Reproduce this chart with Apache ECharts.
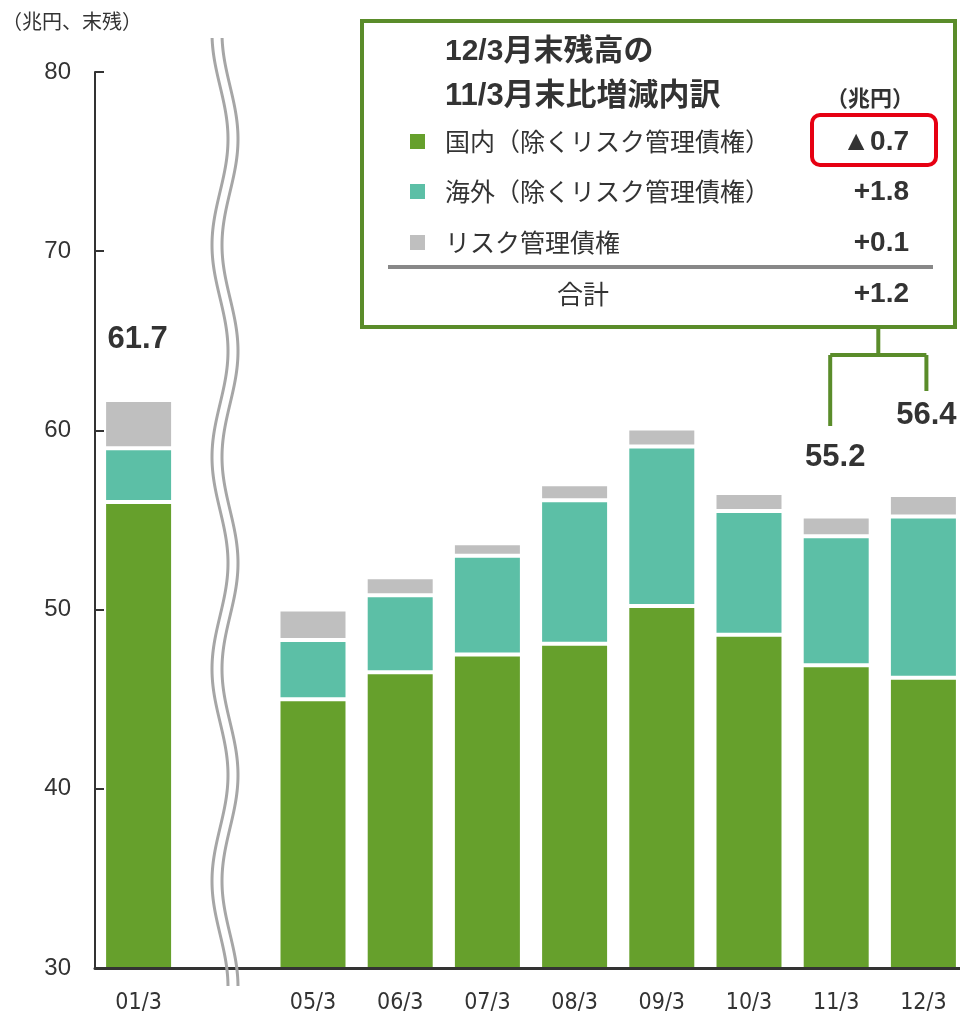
<!DOCTYPE html>
<html><head><meta charset="utf-8">
<script src="https://cdn.jsdelivr.net/npm/echarts@6/dist/echarts.min.js"></script>
<style>html,body{margin:0;padding:0;background:#fff}#c{width:960px;height:1021px}</style>
</head><body><div id="c"></div>
<script>
const categories = ['01/3', '', '05/3', '06/3', '07/3', '08/3', '09/3', '10/3', '11/3', '12/3'];
const domestic = [56.0, null, 45.0, 46.5, 47.5, 48.1, 50.2, 48.6, 46.9, 46.2];
const overseas = [3.0, null, 3.3, 4.3, 5.5, 8.0, 8.9, 6.9, 7.2, 9.0];
const riskMgmt = [2.7, null, 1.7, 1.0, 0.7, 0.9, 1.0, 1.0, 1.1, 1.2];
const labeledIdx = [0, 8, 9];
const labelDistances = [45, 43, 64];
const yAxisName = '（兆円、末残）';
const titleLines = ['12/3月末残高の', '11/3月末比増減内訳'];
const unitText = '（兆円）';
const legendNames = ['国内（除くリスク管理債権）', '海外（除くリスク管理債権）', 'リスク管理債権'];
const legendValues = ['▲0.7', '+1.8', '+0.1'];
const totalText = '合計';
const totalValue = '+1.2';

const colors = ['#66a02c', '#5cbfa6', '#bfbfbf'];
const frameGreen = '#5a8c2a';
const txt = '#333333';
const latin = "'Liberation Sans','Noto Sans CJK JP',sans-serif";
const cjk = "'Noto Sans CJK JP','Liberation Sans',sans-serif";
const narrow = "'DejaVu Sans Condensed','Liberation Sans Narrow','Liberation Sans',sans-serif";

const chart = echarts.init(document.getElementById('c'), null, {renderer: 'canvas'});

const grayData = riskMgmt.map((v, i) => {
  const k = labeledIdx.indexOf(i);
  if (k < 0 || v == null) return v;
  const total = (domestic[i] + overseas[i] + v).toFixed(1);
  return {
    value: v,
    label: {show: true, position: 'top', distance: labelDistances[k], formatter: total,
      fontSize: 31, fontWeight: 'bold', color: txt, fontFamily: latin, offset: k === 2 ? [3, 0] : [-1, 0]}
  };
});

// axis break wave (decoration)
function wave(dx) {
  const pts = [];
  for (let y = 38; y <= 986; y += 3) {
    pts.push([220 + dx - 8 * Math.cos(2 * Math.PI * (y - 33) / 212), y]);
  }
  return pts;
}

const graphics = [];
graphics.push({type: 'polyline', shape: {points: wave(0)}, style: {stroke: '#a6a6a6', lineWidth: 3, fill: null}, z: 100});
graphics.push({type: 'polyline', shape: {points: wave(10)}, style: {stroke: '#a6a6a6', lineWidth: 3, fill: null}, z: 100});
graphics.push({type: 'text', style: {text: yAxisName, x: 2, y: 21, fontSize: 20, fontFamily: cjk, fill: txt, textVerticalAlign: 'middle'}, z: 100});
graphics.push({type: 'rect', shape: {x: 362, y: 21, width: 593, height: 306}, style: {fill: '#fff', stroke: frameGreen, lineWidth: 4}, z: 100});
graphics.push({type: 'text', style: {text: titleLines[0], x: 445, y: 52, fontSize: 30, fontWeight: 'bold', fontFamily: latin, fill: txt, textVerticalAlign: 'middle'}, z: 101});
graphics.push({type: 'text', style: {text: titleLines[1], x: 445, y: 96, fontSize: 31, fontWeight: 'bold', fontFamily: latin, fill: txt, textVerticalAlign: 'middle'}, z: 101});
graphics.push({type: 'text', style: {text: unitText, x: 870, y: 98, fontSize: 22, fontWeight: 'bold', fontFamily: cjk, fill: txt, textAlign: 'center', textVerticalAlign: 'middle'}, z: 101});
const rowY = [141, 191, 242];
rowY.forEach((y, i) => {
  graphics.push({type: 'rect', shape: {x: 410, y: y - 7, width: 15, height: 15}, style: {fill: colors[i]}, z: 101});
  graphics.push({type: 'text', style: {text: legendNames[i], x: 445, y: y, fontSize: 25, fontFamily: cjk, fill: txt, textVerticalAlign: 'middle'}, z: 101});
  graphics.push({type: 'text', style: {text: legendValues[i], x: 909, y: y + 1, fontSize: 28, fontWeight: 'bold', fontFamily: latin, fill: txt, textAlign: 'right', textVerticalAlign: 'middle'}, z: 101});
});
graphics.push({type: 'rect', shape: {x: 812, y: 115, width: 124, height: 50, r: 8}, style: {fill: null, stroke: '#e60012', lineWidth: 4}, z: 102});
graphics.push({type: 'line', shape: {x1: 388, y1: 267, x2: 933, y2: 267}, style: {stroke: '#888888', lineWidth: 4}, z: 101});
graphics.push({type: 'text', style: {text: totalText, x: 583, y: 294, fontSize: 26, fontFamily: cjk, fill: txt, textAlign: 'center', textVerticalAlign: 'middle'}, z: 101});
graphics.push({type: 'text', style: {text: totalValue, x: 909, y: 294, fontSize: 28, fontWeight: 'bold', fontFamily: latin, fill: txt, textAlign: 'right', textVerticalAlign: 'middle'}, z: 101});

function barSeries(name, data, color) {
  return {name: name, type: 'bar', stack: 'total', barWidth: 69, data: data,
    itemStyle: {color: color, borderColor: '#ffffff', borderWidth: 2},
    emphasis: {disabled: true}};
}

const option = {
  animation: false,
  backgroundColor: '#ffffff',
  grid: {left: 95, top: 72, width: 872, height: 896, containLabel: false, outerBoundsMode: 'none'},
  xAxis: {
    type: 'category', data: categories, z: 10,
    axisLine: {lineStyle: {color: '#333', width: 3}},
    axisTick: {inside: true, length: 9, interval: 0, lineStyle: {color: '#333', width: 2}},
    axisLabel: {fontSize: 23, color: txt, margin: 24, interval: 0, fontFamily: narrow}
  },
  yAxis: {
    type: 'value', min: 30, max: 80, interval: 10, z: 10,
    axisLine: {show: true, lineStyle: {color: '#333', width: 2}},
    axisTick: {show: true, inside: true, length: 9, lineStyle: {color: '#333', width: 2}},
    axisLabel: {fontSize: 24, color: txt, margin: 24, fontFamily: latin},
    splitLine: {show: false}
  },
  series: [
    barSeries(legendNames[0], domestic, colors[0]),
    barSeries(legendNames[1], overseas, colors[1]),
    barSeries(legendNames[2], grayData, colors[2])
  ],
  graphic: graphics
};
chart.setOption(option);

const xA = chart.convertToPixel({xAxisIndex: 0}, categories[8]) - 6;
const xB = chart.convertToPixel({xAxisIndex: 0}, categories[9]) + 3;
const xM = (xA + xB) / 2;
const conn = [
  [[xM, 327], [xM, 355]],
  [[xA, 355], [xB, 355]],
  [[xA, 355], [xA, 426]],
  [[xB, 355], [xB, 391]]
];
chart.setOption({graphic: graphics.concat(conn.map(p => ({type: 'polyline', shape: {points: p}, style: {stroke: frameGreen, lineWidth: 4, fill: null}, z: 99})))});
</script></body></html>
